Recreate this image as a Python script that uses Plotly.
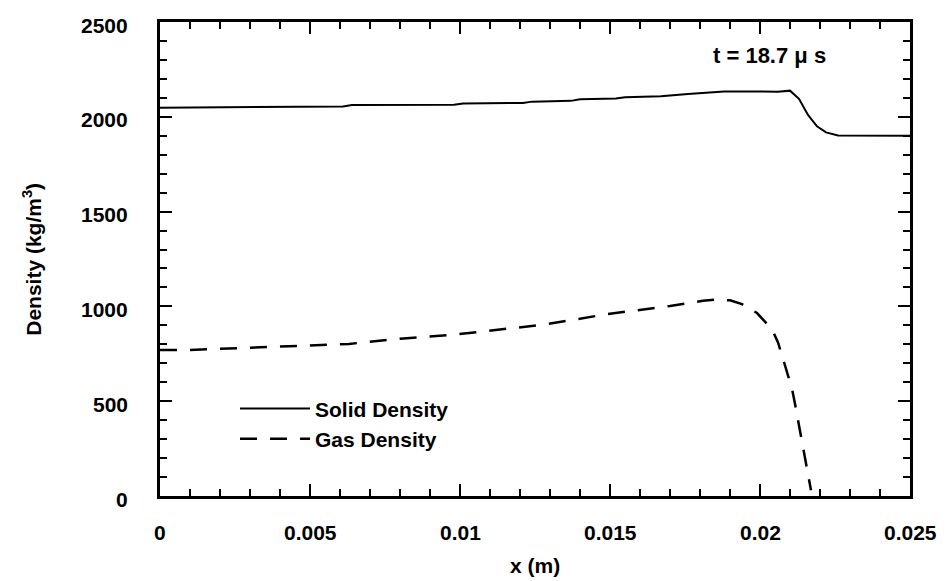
import plotly.graph_objects as go

# ---- data ----
solid_x = [0, 0.002, 0.004, 0.0061, 0.0064, 0.008, 0.0098, 0.0101, 0.0121, 0.0124,
           0.0137, 0.0140, 0.0152, 0.0155, 0.0167, 0.0176, 0.0188, 0.0200, 0.0206,
           0.0210, 0.0213, 0.0216, 0.0219, 0.0222, 0.0226, 0.025]
solid_rho = [2048, 2050, 2052, 2054, 2062, 2062, 2064, 2070, 2073, 2080,
             2084, 2093, 2096, 2103, 2108, 2120, 2134, 2134, 2132,
             2138, 2095, 2010, 1950, 1918, 1902, 1900]

gas_x = [0, 0.001, 0.003, 0.0063, 0.008, 0.0097, 0.0128, 0.0149, 0.017, 0.0181,
         0.0186, 0.0190, 0.0194, 0.0199, 0.0204, 0.0206, 0.02077, 0.02093, 0.02107,
         0.02117, 0.02127, 0.02167, 0.0217]
gas_rho = [770, 770, 782, 802, 830, 849, 904, 959, 1002, 1030,
           1036, 1032, 1012, 965, 880, 810, 722, 643, 563,
           484, 397, 69, 30]

x_tickvals = [0, 0.005, 0.01, 0.015, 0.02, 0.025]
x_ticktext = ["0", "0.005", "0.01", "0.015", "0.02", "0.025"]
y_tickvals = [0, 500, 1000, 1500, 2000, 2500]
y_ticktext = ["0", "500", "1000", "1500", "2000", "2500"]

FONT = "Liberation Sans, Arial, sans-serif"
TEXTFONT = dict(family=FONT, size=21, color="black", weight="bold")

fig = go.Figure()
fig.add_trace(go.Scatter(x=solid_x, y=solid_rho, mode="lines", name="Solid Density",
                         line=dict(color="black", width=2)))
fig.add_trace(go.Scatter(x=gas_x, y=gas_rho, mode="lines", name="Gas Density",
                         line=dict(color="black", width=2.5, dash="17px,13px")))

axis_common = dict(showline=True, linecolor="black", linewidth=2.5, mirror="allticks",
                   ticks="inside", ticklen=12, tickwidth=2, tickcolor="black",
                   showgrid=False, zeroline=False, showticklabels=False)

fig.update_xaxes(range=[0, 0.025], tickmode="array", tickvals=x_tickvals,
                 minor=dict(tickmode="linear", tick0=0, dtick=0.001, ticks="inside",
                            ticklen=7, tickwidth=1.5, tickcolor="black", showgrid=False),
                 **axis_common)
fig.update_yaxes(range=[0, 2500], tickmode="array", tickvals=y_tickvals,
                 minor=dict(tickmode="linear", tick0=0, dtick=100, ticks="inside",
                            ticklen=7, tickwidth=1.5, tickcolor="black", showgrid=False),
                 **axis_common)

# tick labels placed through the axes' own scales, set further out from the frame
for v, t in zip(x_tickvals, x_ticktext):
    fig.add_annotation(text=t, xref="x", yref="paper", x=v, y=-0.078,
                       showarrow=False, xanchor="center", yanchor="middle", font=TEXTFONT)
for v, t in zip(y_tickvals, y_ticktext):
    fig.add_annotation(text=t, xref="paper", yref="y", x=-0.04, y=v,
                       showarrow=False, xanchor="right", yanchor="middle", yshift=-3,
                       font=TEXTFONT)

fig.add_annotation(text="x (m)", xref="paper", yref="paper", x=0.5, y=-0.146,
                   showarrow=False, xanchor="center", yanchor="middle", font=TEXTFONT)
fig.add_annotation(text="Density (kg/m<sup>3</sup>)", xref="paper", yref="paper",
                   x=-0.171, y=0.5, textangle=-90, showarrow=False,
                   xanchor="center", yanchor="middle", font=TEXTFONT)
fig.add_annotation(text="t = 18.7 \u03bc s", xref="x", yref="y", x=0.0203, y=2325,
                   showarrow=False, xanchor="center", yanchor="middle",
                   font=dict(family=FONT, size=22, color="black", weight="bold"))

fig.update_layout(
    width=946, height=581,
    margin=dict(l=160, r=36, t=22, b=85),
    paper_bgcolor="white", plot_bgcolor="white",
    showlegend=True,
    legend=dict(x=0.1, y=0.227, xanchor="left", yanchor="top",
                bgcolor="rgba(0,0,0,0)", itemwidth=70, tracegroupgap=0,
                font=TEXTFONT),
)

fig.write_html("out.html")
